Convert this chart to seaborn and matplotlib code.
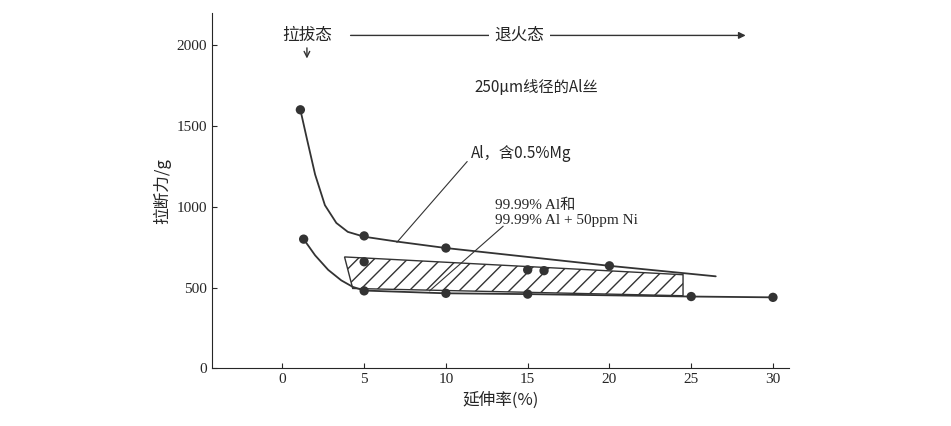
import matplotlib
matplotlib.use("Agg")
import matplotlib.pyplot as plt
import seaborn as sns
import numpy as np

sns.set_style("ticks")
plt.rcParams['font.family'] = ['Noto Sans CJK SC', 'DejaVu Sans']

up_x = [1.1, 5, 10, 20]
up_y = [1600, 820, 745, 635]
low_x = [1.3, 5, 10, 15, 25, 30]
low_y = [800, 480, 465, 460, 445, 440]
mid_x = [5, 15, 16]
mid_y = [660, 610, 605]
xticks = [0, 5, 10, 15, 20, 25, 30]
yticks = [0, 500, 1000, 1500, 2000]

fig, ax = plt.subplots(figsize=(9.51, 4.26), dpi=100)
fig.subplots_adjust(left=0.223, right=0.83, top=0.97, bottom=0.135)

ux = np.array([1.1, 1.5, 2.0, 2.6, 3.3, 4.0, 5, 7, 10, 15, 20, 26.5])
uy = np.array([1600, 1420, 1200, 1010, 900, 845, 815, 785, 745, 690, 635, 570])
lx = np.array([1.3, 2.0, 2.8, 3.6, 4.3, 5, 10, 15, 25, 30])
ly = np.array([800, 700, 610, 545, 505, 482, 465, 460, 445, 440])
ax.plot(ux, uy, color='#333333', lw=1.3)
ax.plot(lx, ly, color='#333333', lw=1.3)
for xs, ys in [(up_x, up_y), (low_x, low_y), (mid_x, mid_y)]:
    sns.scatterplot(x=xs, y=ys, ax=ax, color='#333333', s=45, zorder=3, edgecolor='none')

poly = plt.Polygon([(3.8, 690), (24.5, 580), (24.5, 450), (4.3, 495)], closed=True,
                   facecolor='none', edgecolor='#333333', hatch='//', lw=1)
ax.add_patch(poly)

ax.set_xlim(-4.3, 31)
ax.set_ylim(0, 2200)
ax.set_xticks(xticks)
ax.set_yticks(yticks)
sns.despine(ax=ax)
ax.tick_params(direction='in', labelsize=11)
for lab in ax.get_xticklabels() + ax.get_yticklabels():
    lab.set_family(['Liberation Serif'])
ax.set_xlabel('延伸率(%)', fontsize=12)
ax.set_ylabel('拉断力/g', fontsize=12)

ax.text(1.5, 2060, '拉拔态', fontsize=12, ha='center', va='center')
ax.annotate('', xy=(1.5, 1900), xytext=(1.5, 2000),
            arrowprops=dict(arrowstyle='->', color='#333333'))
ax.annotate('', xy=(28.5, 2060), xytext=(4, 2060),
            arrowprops=dict(arrowstyle='-|>', color='#333333'))
ax.text(14.5, 2060, '退火态', fontsize=12, ha='center', va='center',
        bbox=dict(facecolor='white', edgecolor='none', pad=4))
ax.text(15.5, 1740, '250μm线径的Al丝', fontsize=11, ha='center', va='center')
ax.text(11.5, 1330, 'Al，含0.5%Mg', fontsize=11, va='center')
ax.plot([7, 11.3], [780, 1280], color='#333333', lw=0.8)
ax.text(13, 960, '99.99% Al和\n99.99% Al + 50ppm Ni', fontsize=11, va='center',
        family=['Liberation Serif', 'Noto Sans CJK SC'])
ax.plot([9, 13.5], [480, 880], color='#333333', lw=0.8)

fig.savefig('out.png', dpi=100)
